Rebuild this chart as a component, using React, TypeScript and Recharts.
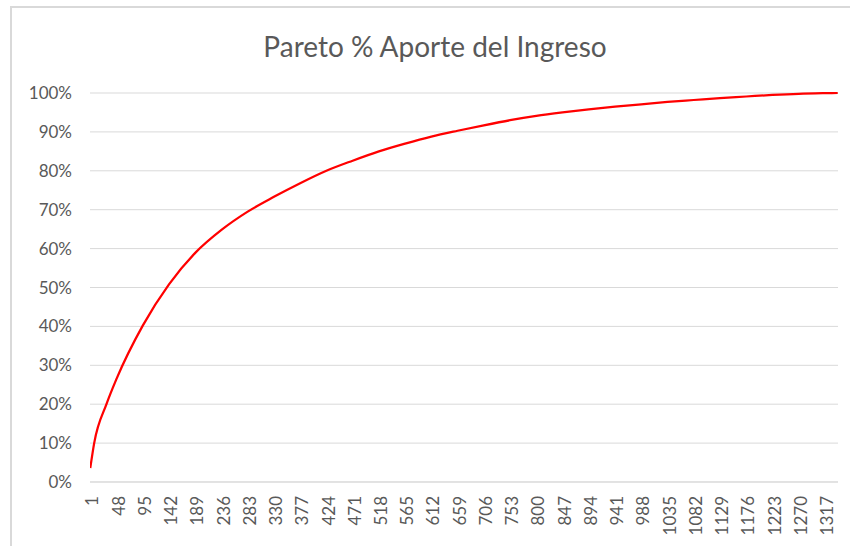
import { CartesianGrid, Line, LineChart, XAxis, YAxis } from 'recharts';

// posición (1..1340) -> % acumulado del ingreso
const positions = [
  1, 8, 30, 48, 95, 142, 189, 236, 283, 330, 377, 424, 471, 518, 565, 612,
  659, 706, 753, 800, 847, 894, 941, 988, 1035, 1082, 1129, 1176, 1223, 1270,
  1317, 1340,
];
const aporte = [
  3.6, 10, 20, 26.5, 40.2, 50.8, 58.9, 64.8, 69.5, 73.3, 76.8, 80.0, 82.6,
  85.0, 87.0, 88.8, 90.3, 91.7, 93.0, 94.1, 95.0, 95.8, 96.5, 97.1, 97.7, 98.2,
  98.7, 99.1, 99.5, 99.8, 99.95, 100,
];
const xTicks = [
  1, 48, 95, 142, 189, 236, 283, 330, 377, 424, 471, 518, 565, 612, 659, 706,
  753, 800, 847, 894, 941, 988, 1035, 1082, 1129, 1176, 1223, 1270, 1317,
];
const yTicks = [0, 10, 20, 30, 40, 50, 60, 70, 80, 90, 100];

const data = positions.map((p, i) => ({ pos: p, aporte: aporte[i] }));

const TEXT = '#595959';
const GRID = '#d9d9d9';
const FONT = 'Lato, "Open Sans", sans-serif';

function XTick(props: any) {
  const { x, y, payload } = props;
  return (
    <g transform={`translate(${x},${y})`}>
      <text
        transform="rotate(-90)"
        x={-14}
        y={2}
        dy="0.36em"
        textAnchor="end"
        fill={TEXT}
        fontSize={17}
        fontFamily={FONT}
      >
        {payload.value}
      </text>
    </g>
  );
}

export default function App() {
  return (
    <div style={{ position: 'fixed', left: 0, top: 0, width: 850, height: 546, background: '#fff', overflow: 'hidden' }}>
      <div
        style={{
          position: 'absolute',
          left: 10,
          top: 6,
          width: 900,
          height: 600,
          borderLeft: `2px solid ${GRID}`,
          borderTop: `2px solid ${GRID}`,
        }}
      />
      <div
        style={{
          position: 'absolute',
          left: 10,
          top: 27,
          width: 850,
          textAlign: 'center',
          fontFamily: FONT,
          fontSize: 28,
          color: TEXT,
          lineHeight: '38px',
        }}
      >
        Pareto % Aporte del Ingreso
      </div>
      <div style={{ position: 'absolute', left: 0, top: 0 }}>
        <LineChart width={850} height={546} data={data} margin={{ top: 93, right: 12, bottom: 4, left: 0 }}>
          <CartesianGrid vertical={false} stroke={GRID} />
          <XAxis
            dataKey="pos"
            type="number"
            domain={[0.5, 1340.5]}
            ticks={xTicks}
            interval={0}
            allowDataOverflow
            tick={<XTick />}
            tickLine={false}
            tickSize={0}
            tickMargin={0}
            axisLine={{ stroke: GRID }}
            height={60}
          />
          <YAxis
            type="number"
            domain={[0, 100]}
            ticks={yTicks}
            interval={0}
            tickFormatter={(v: number) => `${v}%`}
            width={90}
            tickLine={false}
            axisLine={false}
            tickSize={0}
            tickMargin={18}
            tick={{ fill: TEXT, fontSize: 17, fontFamily: FONT }}
          />
          <Line
            type="monotone"
            dataKey="aporte"
            stroke="#ff0000"
            strokeWidth={2.25}
            dot={false}
            isAnimationActive={false}
          />
        </LineChart>
      </div>
    </div>
  );
}
